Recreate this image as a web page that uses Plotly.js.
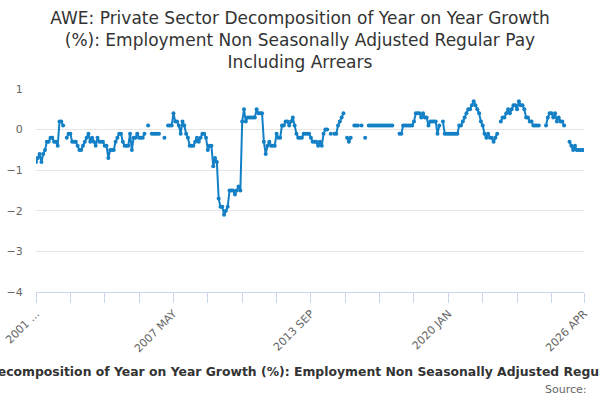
<!DOCTYPE html>
<html>
<head>
<meta charset="utf-8">
<script src="https://cdn.plot.ly/plotly-3.0.1.min.js"></script>
<style>
  html, body { margin: 0; padding: 0; background: #fff; }
  #chart { width: 600px; height: 400px; }
</style>
</head>
<body>
<div id="chart"></div>
<script>
// --- Data ---
const monthNames = ["JAN","FEB","MAR","APR","MAY","JUN","JUL","AUG","SEP","OCT","NOV","DEC"];
const startYear = 2001;

// y/y growth, 2001 JAN .. 2026 APR (null = no value)
const growth = [
  -0.8, -0.7, -0.6, -0.8, -0.6, -0.5, -0.3, -0.3, -0.2, -0.2,
  -0.3, -0.3, -0.4, 0.2, 0.2, 0.1, null, -0.2, -0.1, -0.1,
  -0.3, -0.3, -0.3, -0.4, -0.5, -0.5, -0.4, -0.3, -0.2, -0.1,
  -0.3, -0.2, -0.3, -0.4, -0.2, -0.3, -0.3, -0.3, -0.4, -0.4,
  -0.7, -0.5, -0.5, -0.5, -0.3, -0.2, -0.1, -0.1, -0.3, -0.4,
  -0.4, -0.4, -0.1, -0.5, -0.2, -0.2, -0.1, -0.2, -0.2, -0.2,
  -0.1, null, 0.1, null, -0.1, -0.1, -0.1, -0.1, -0.1, null,
  null, -0.2, null, 0.1, 0.1, 0.1, 0.4, 0.2, 0.2, 0.1,
  -0.1, 0.2, 0.1, -0.1, -0.2, -0.4, -0.4, -0.4, -0.3, -0.2,
  -0.3, -0.2, -0.1, -0.1, -0.2, -0.5, -0.4, -0.4, -0.9, -0.7,
  -0.8, -1.7, -1.9, -1.9, -2.1, -2.0, -1.9, -1.5, -1.5, -1.5,
  -1.6, -1.5, -1.4, -1.5, 0.2, 0.5, 0.2, 0.3, 0.3, 0.3,
  0.3, 0.3, 0.5, 0.4, 0.4, 0.4, -0.3, -0.6, -0.4, -0.3,
  -0.4, -0.4, -0.4, -0.1, -0.2, -0.2, 0.1, 0.1, 0.2, 0.2,
  0.1, 0.2, 0.3, 0.1, -0.1, -0.2, -0.2, -0.2, -0.1, -0.1,
  -0.1, -0.1, -0.2, -0.3, -0.3, -0.3, -0.4, -0.3, -0.4, -0.1,
  0.0, 0.0, null, -0.1, null, -0.1, -0.1, 0.1, 0.2, 0.3,
  0.4, null, -0.2, -0.3, -0.2, null, 0.1, 0.1, 0.1, null,
  0.1, null, -0.2, null, 0.1, 0.1, 0.1, 0.1, 0.1, 0.1,
  0.1, 0.1, 0.1, 0.1, 0.1, 0.1, 0.1, 0.1, null, null,
  null, -0.1, -0.1, 0.1, 0.1, 0.1, 0.1, 0.1, 0.1, 0.2,
  0.4, 0.4, 0.4, 0.3, 0.4, 0.3, 0.3, 0.1, 0.2, 0.2,
  0.2, 0.2, -0.1, 0.1, null, 0.2, -0.1, -0.1, -0.1, -0.1,
  -0.1, -0.1, -0.1, -0.1, 0.1, 0.1, 0.2, 0.3, 0.4, 0.5,
  0.5, 0.6, 0.7, 0.6, 0.5, 0.4, 0.2, 0.1, -0.1, -0.2,
  -0.1, -0.2, -0.2, -0.3, -0.2, -0.1, null, 0.2, 0.3, 0.3,
  0.4, 0.5, 0.4, 0.5, 0.6, 0.6, 0.5, 0.7, 0.6, 0.6,
  0.5, 0.3, 0.3, 0.2, 0.2, 0.1, 0.1, 0.1, 0.1, null,
  null, null, 0.1, 0.3, 0.4, 0.4, 0.3, 0.4, 0.2, 0.3,
  0.2, 0.2, 0.1, null, null, -0.3, -0.4, -0.5, -0.4, -0.5,
  -0.5, -0.5, -0.5, -0.5
];

// month labels for each value
const months = growth.map((_, i) => (startYear + Math.floor(i / 12)) + " " + monthNames[i % 12]);

// tick marks along the x axis, labelled every fourth one
const tickIdx = [0, 19, 38, 57, 76, 95, 114, 133, 152, 171, 190, 209, 228, 247, 266, 285, 303];
const tickLabels = ["2001 ...", "", "", "", "2007 MAY", "", "", "", "2013 SEP", "", "", "", "2020 JAN", "", "", "", "2026 APR"];

const seriesName = "AWE: Private Sector Decomposition of Year on Year Growth (%): Employment Non Seasonally Adjusted Regular Pay Including Arrears";
const lineColor = "#1380c6";
const font = "DejaVu Sans, Verdana, sans-serif";

const trace = {
  x: months, y: growth,
  type: "scatter", mode: "lines+markers",
  connectgaps: false,
  line: { color: lineColor, width: 2 },
  marker: { color: lineColor, size: 4 },
  name: seriesName,
  hoverinfo: "x+y"
};

const layout = {
  width: 600, height: 400,
  paper_bgcolor: "#fff", plot_bgcolor: "#fff",
  font: { family: font, color: "#666", size: 11 },
  showlegend: false,
  margin: { l: 36, r: 16, t: 89, b: 108 },
  title: {
    text: "AWE: Private Sector Decomposition of Year on Year Growth<br>(%): Employment Non Seasonally Adjusted Regular Pay<br>Including Arrears",
    font: { family: font, size: 17, color: "#333" },
    x: 0.5, xanchor: "center",
    yref: "container", y: 0.94, yanchor: "middle"
  },
  xaxis: {
    type: "category",
    range: [0, growth.length - 1],
    tickmode: "array",
    tickvals: tickIdx.map(i => months[i]),
    ticktext: tickLabels,
    tickangle: -45,
    ticks: "outside", ticklen: 10, tickwidth: 1, tickcolor: "#ccd6eb",
    showline: true, linecolor: "#ccd6eb", linewidth: 1,
    showgrid: false, zeroline: false,
    tickfont: { family: font, size: 11, color: "#666" }
  },
  yaxis: {
    range: [-4, 1],
    tickvals: [-4, -3, -2, -1, 0, 1],
    ticks: "outside", ticklen: 10, tickcolor: "rgba(0,0,0,0)",
    showgrid: true, gridcolor: "#e6e6e6", gridwidth: 1,
    zeroline: false, showline: false,
    tickfont: { family: font, size: 11, color: "#666" }
  },
  annotations: [
    {
      text: "<b>" + seriesName + "</b>",
      xref: "paper", yref: "paper", x: 0.495, y: -0.39,
      xanchor: "center", yanchor: "middle", showarrow: false,
      font: { family: font, size: 12.4, color: "#333" }
    },
    {
      text: "Source:",
      xref: "paper", yref: "paper", x: 1.01, y: -0.48,
      xanchor: "right", yanchor: "middle", showarrow: false,
      font: { family: font, size: 11, color: "#666" }
    }
  ]
};

Plotly.newPlot("chart", [trace], layout, { displayModeBar: false, staticPlot: true });
</script>
</body>
</html>
